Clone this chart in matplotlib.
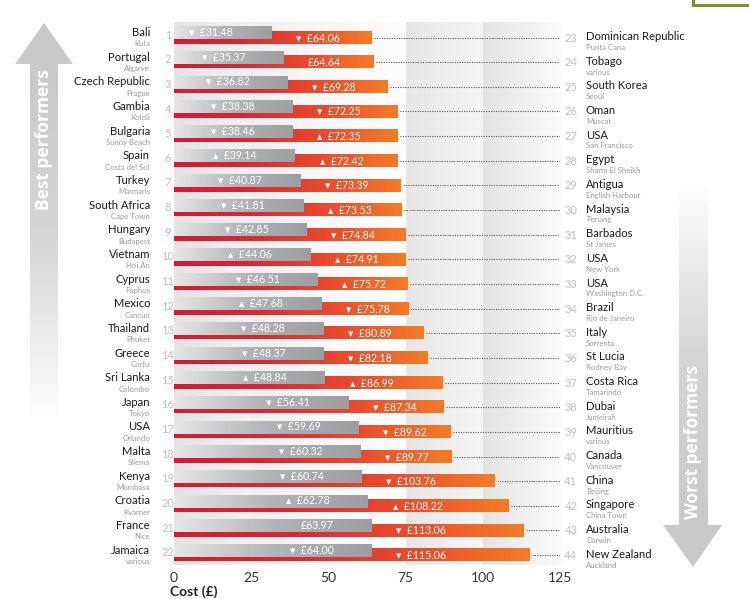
import numpy as np
import matplotlib
matplotlib.use("Agg")
import matplotlib.pyplot as plt
from matplotlib.colors import LinearSegmentedColormap
from matplotlib.patches import Polygon, Rectangle

plt.rcParams['font.family'] = ['Lato', 'DejaVu Sans']

# best performers (grey bars, left side)
best_names = ["Bali", "Portugal", "Czech Republic", "Gambia", "Bulgaria", "Spain", "Turkey",
              "South Africa", "Hungary", "Vietnam", "Cyprus", "Mexico", "Thailand", "Greece",
              "Sri Lanka", "Japan", "USA", "Malta", "Kenya", "Croatia", "France", "Jamaica"]
best_cities = ["Kuta", "Algarve", "Prague", "Kololi", "Sunny Beach", "Costa del Sol", "Marmaris",
               "Cape Town", "Budapest", "Hoi An", "Paphos", "Cancun", "Phuket", "Corfu",
               "Colombo", "Tokyo", "Orlando", "Sliema", "Mombasa", "Kvarner", "Nice", "various"]
best_cost = [31.48, 35.37, 36.82, 38.38, 38.46, 39.14, 40.87, 41.81, 42.85, 44.06, 46.51,
             47.68, 48.28, 48.37, 48.84, 56.41, 59.69, 60.32, 60.74, 62.78, 63.97, 64.00]
best_trend = ["down", "down", "down", "down", "down", "up", "down", "down", "down", "up", "down",
              "up", "down", "down", "up", "down", "down", "down", "down", "up", "", "down"]

# worst performers (red bars, right side)
worst_names = ["Dominican Republic", "Tobago", "South Korea", "Oman", "USA", "Egypt", "Antigua",
               "Malaysia", "Barbados", "USA", "USA", "Brazil", "Italy", "St Lucia", "Costa Rica",
               "Dubai", "Mauritius", "Canada", "China", "Singapore", "Australia", "New Zealand"]
worst_cities = ["Punta Cana", "various", "Seoul", "Muscat", "San Francisco", "Sharm El Sheikh",
                "English Harbour", "Penang", "St James", "New York", "Washington D.C.",
                "Rio de Janeiro", "Sorrento", "Rodney Bay", "Tamarindo", "Jumeirah", "various",
                "Vancouver", "Beijing", "China Town", "Darwin", "Auckland"]
worst_cost = [64.06, 64.64, 69.28, 72.25, 72.35, 72.42, 73.39, 73.53, 74.84, 74.91, 75.72,
              75.78, 80.89, 82.18, 86.99, 87.34, 89.62, 89.77, 103.76, 108.22, 113.06, 115.06]
worst_trend = ["down", "", "down", "down", "up", "up", "down", "up", "down", "up", "up",
               "down", "down", "down", "up", "down", "down", "down", "down", "up", "down", "down"]

x_ticks = [0, 25, 50, 75, 100, 125]
marks = {"up": "\u25B4  ", "down": "\u25BE  ", "": ""}

W, H = 749, 599
fig = plt.figure(figsize=(W / 100, H / 100), dpi=100)

# full-figure layer in pixel coords for the arrows and the green box
bg = fig.add_axes([0, 0, 1, 1], zorder=0)
bg.axis("off")

arrow_grey = "#c9c9c9"
fade = LinearSegmentedColormap.from_list("fade", [arrow_grey, "#d6d6d6", "#ffffff"])
g = np.linspace(0, 1, 200).reshape(-1, 1)
# best performers arrow (up)
bg.add_patch(Polygon([[15, 64], [44, 23], [73, 64]], closed=True, color=arrow_grey, lw=0))
bg.imshow(g, cmap=fade, extent=(30, 58, 420, 64), origin="upper", aspect="auto",
          interpolation="bilinear")
bg.text(44, 140, "Best performers", rotation=90, color="white", fontsize=12.5,
        fontweight="bold", family=["Open Sans", "DejaVu Sans"], ha="center", va="center")
# worst performers arrow (down)
bg.add_patch(Polygon([[663, 525], [693, 567], [722, 525]], closed=True, color=arrow_grey, lw=0))
bg.imshow(g[::-1], cmap=fade, extent=(679, 708, 525, 180), origin="upper", aspect="auto",
          interpolation="bilinear")
bg.text(693, 442, "Worst performers", rotation=90, color="white", fontsize=12.5,
        fontweight="bold", family=["Open Sans", "DejaVu Sans"], ha="center", va="center")
# corner of a box from the page above
bg.add_patch(Rectangle((693, -10), 70, 15, facecolor="#fbfbf5", edgecolor="#7f8f2c", lw=2.2))
bg.set_xlim(0, W)
bg.set_ylim(H, 0)

ax = fig.add_axes([174 / W, 1 - 565 / H, 386 / W, 543 / H], zorder=1)
ax.set_facecolor("none")
n = len(best_cost)
rows = np.arange(1, n + 1)

# background bands
band_specs = [("#e3e3e3", "#f3f3f3"), ("#efefef", "#f9f9f9"), ("#f8f8f8", "#fdfdfd"),
              ("#e6e6e6", "#f6f6f6"), ("#e4e4e4", "#fbfbfb")]
gx = np.linspace(0, 1, 100).reshape(1, -1)
for k in range(len(x_ticks) - 1):
    cm = LinearSegmentedColormap.from_list("b%d" % k, list(band_specs[k]))
    ax.imshow(gx, cmap=cm, extent=(x_ticks[k], x_ticks[k + 1], 22.5, 0.47), aspect="auto",
              interpolation="bilinear", zorder=0)

grey_cm = LinearSegmentedColormap.from_list("greybar", ["#e6e6e6", "#b3b4b7", "#9c9ea2"])
red_cm = LinearSegmentedColormap.from_list("redbar", ["#d51b32", "#dc2632", "#ea4a2d", "#f37b27"])

for i in range(n):
    y = rows[i]
    # red bar (lower, longer)
    ax.imshow(gx, cmap=red_cm, extent=(0, worst_cost[i], y + 0.35, y - 0.15), aspect="auto",
              interpolation="bilinear", zorder=2)
    # grey bar (upper)
    ax.imshow(gx, cmap=grey_cm, extent=(0, best_cost[i], y + 0.17, y - 0.35), aspect="auto",
              interpolation="bilinear", zorder=3)
    ax.text(best_cost[i] - 12.3, y - 0.1, marks[best_trend[i]] + "£%.2f" % best_cost[i],
            color="white", fontsize=7.6, ha="right", va="center", zorder=4)
    ax.text(best_cost[i] + 8, y + 0.12, marks[worst_trend[i]] + "£%.2f" % worst_cost[i],
            color="white", fontsize=7.6, ha="left", va="center", zorder=4)
    # dotted leader to the right-hand label
    ax.plot([worst_cost[i] + 0.8, 125], [y + 0.1, y + 0.1], ls=(0, (1, 1.2)), lw=0.8,
            color="#555555", zorder=2)

tr = ax.get_yaxis_transform()
for i in range(n):
    y = rows[i]
    ax.text(-0.016, y, str(i + 1), transform=tr, ha="center", va="center", fontsize=8,
            color="#c0c0c0", clip_on=False)
    ax.text(-0.062, y - 0.1, best_names[i], transform=tr, ha="right", va="center",
            fontsize=8.1, color="#1a1a1a", clip_on=False)
    ax.text(-0.062, y + 0.36, best_cities[i], transform=tr, ha="right", va="center",
            fontsize=5.6, color="#9a9a9a", clip_on=False)
    ax.text(1.028, y + 0.12, str(n + i + 1), transform=tr, ha="center", va="center",
            fontsize=8, color="#c0c0c0", clip_on=False)
    ax.text(1.067, y + 0.06, worst_names[i], transform=tr, ha="left", va="center",
            fontsize=8.1, color="#1a1a1a", clip_on=False)
    ax.text(1.067, y + 0.5, worst_cities[i], transform=tr, ha="left", va="center",
            fontsize=5.6, color="#9a9a9a", clip_on=False)

ax.set_xlim(0, 125)
ax.set_ylim(22.5, 0.47)
ax.set_xticks(x_ticks)
ax.set_yticks([])
ax.tick_params(axis="x", length=0, pad=5, labelsize=10, labelcolor="#333333")
for s in ax.spines.values():
    s.set_visible(False)

fig.text(170 / W, 1 - 598 / H, "Cost (£)", ha="left", va="bottom", fontsize=10,
         fontweight="bold", color="#222222")

fig.savefig("out.png", dpi=100)
